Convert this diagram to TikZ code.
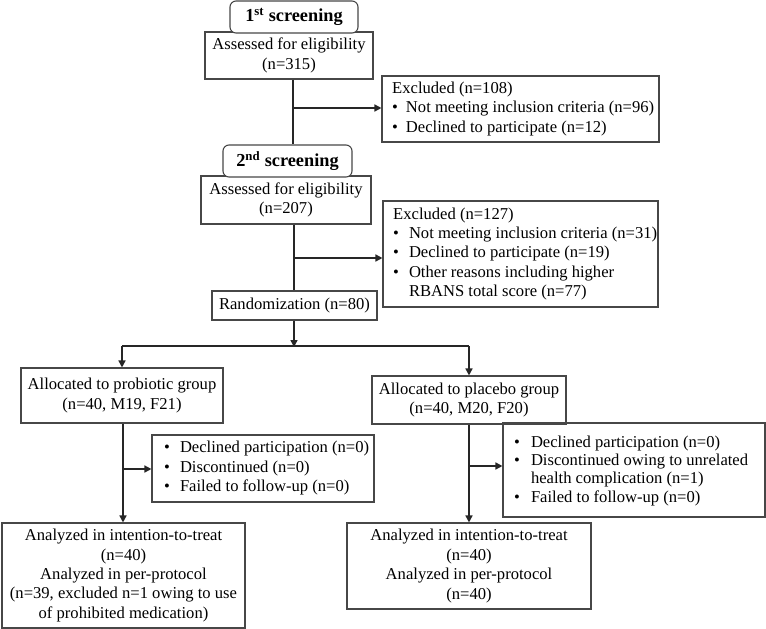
\documentclass[tikz,border=0pt]{standalone}
\usepackage{fontspec}
\setmainfont{Liberation Serif}
\usetikzlibrary{arrows.meta}
\newcommand{\mysz}{\fontsize{16.6}{19.4}\selectfont}
\begin{document}
\begin{tikzpicture}[x=1pt,y=-1pt,
  box/.style={draw=black!72, line width=1.1pt, inner sep=0pt, align=center, font=\mysz},
  txt/.style={anchor=west, font=\mysz, align=left, inner sep=0pt},
  head/.style={draw=black!72, line width=1.1pt, rounded corners=6pt, inner sep=0pt,
    fill=white, font=\fontsize{18.3}{20}\selectfont\bfseries},
  conn/.style={draw=black!85, line width=1.5pt},
  arr/.style={conn, -{Triangle[length=7pt,width=7pt]}}]
\useasboundingbox (0,0) rectangle (766,629);

% boxes
\node[box, minimum width=168pt, minimum height=47pt] (a1) at (289,55.5) {Assessed for eligibility\\(n=315)};
\node[head, minimum width=128pt, minimum height=32pt] (s1) at (294,17) {1\textsuperscript{st} screening};
\node[box, minimum width=277pt, minimum height=66pt] (e1) at (520.5,109) {};
\node[txt] (e1t) at (392,109)
  {\begin{tabular}{@{}l@{\hspace{8pt}}l@{}}
  \multicolumn{2}{@{}l@{}}{Excluded (n=108)}\\
  • & Not meeting inclusion criteria (n=96)\\
  • & Declined to participate (n=12)
  \end{tabular}};

\node[box, minimum width=170pt, minimum height=48pt] (a2) at (286,200) {Assessed for eligibility\\(n=207)};
\node[head, minimum width=129pt, minimum height=32pt] (s2) at (287.5,161) {2\textsuperscript{nd} screening};
\node[box, minimum width=275pt, minimum height=106pt] (e2) at (520.5,254) {};
\node[txt] (e2t) at (393,254)
  {\begin{tabular}{@{}l@{\hspace{10pt}}l@{}}
  \multicolumn{2}{@{}l@{}}{Excluded (n=127)}\\
  • & Not meeting inclusion criteria (n=31)\\
  • & Declined to participate (n=19)\\
  • & Other reasons including higher\\
    & RBANS total score (n=77)
  \end{tabular}};

\node[box, minimum width=165pt, minimum height=29pt] (r) at (294.5,305.5) {Randomization (n=80)};

\node[box, minimum width=202pt, minimum height=55pt] (p1) at (122,395.5) {Allocated to probiotic group\\(n=40, M19, F21)};
\node[box, minimum width=194pt, minimum height=48pt] (p2) at (469,400) {Allocated to placebo group\\(n=40, M20, F20)};

\node[box, minimum width=222pt, minimum height=67pt] (x1) at (263,468.5) {};
\node[txt] (x1t) at (164,468.5)
  {\begin{tabular}{@{}l@{\hspace{10pt}}l@{}}
  • & Declined participation (n=0)\\
  • & Discontinued (n=0)\\
  • & Failed to follow-up (n=0)
  \end{tabular}};

\node[box, minimum width=262pt, minimum height=94pt] (x2) at (634,470) {};
\node[txt] (x2t) at (514,471)
  {\renewcommand{\arraystretch}{0.95}\begin{tabular}{@{}l@{\hspace{11pt}}l@{}}
  • & Declined participation (n=0)\\
  • & Discontinued owing to unrelated\\
    & health complication (n=1)\\
  • & Failed to follow-up (n=0)
  \end{tabular}};

\node[box, minimum width=243pt, minimum height=105pt] (f1) at (123.5,575.5) {Analyzed in intention-to-treat\\(n=40)\\Analyzed in per-protocol\\(n=39, excluded n=1 owing to use\\of prohibited medication)};
\node[box, minimum width=244pt, minimum height=86pt] (f2) at (469,566) {Analyzed in intention-to-treat\\(n=40)\\Analyzed in per-protocol\\(n=40)};

% helper coordinates
\coordinate (v1) at (293,108);
\coordinate (v2) at (294,258);
\coordinate (rb) at (294,346);
\coordinate (bl) at (122,346);
\coordinate (br) at (469,346);
\coordinate (v3) at (123,469);
\coordinate (v4) at (469,466);

% connectors
\draw[conn] (a1.south -| v1) -- (s2.north -| v1);
\draw[arr] (v1) -- (v1 -| e1.west);
\draw[conn] (a2.south -| v2) -- (r.north -| v2);
\draw[arr] (v2) -- (v2 -| e2.west);
\draw[arr] (r.south -| rb) -- ([yshift=-1pt]rb);
\draw[conn] (bl) -- (br);
\draw[arr] (bl) -- (p1.north -| bl);
\draw[arr] (br) -- (p2.north -| br);
\draw[arr] (p1.south -| v3) -- (f1.north -| v3);
\draw[arr] (v3) -- (v3 -| x1.west);
\draw[arr] (p2.south -| v4) -- (f2.north -| v4);
\draw[arr] (v4) -- (v4 -| x2.west);
\end{tikzpicture}
\end{document}
